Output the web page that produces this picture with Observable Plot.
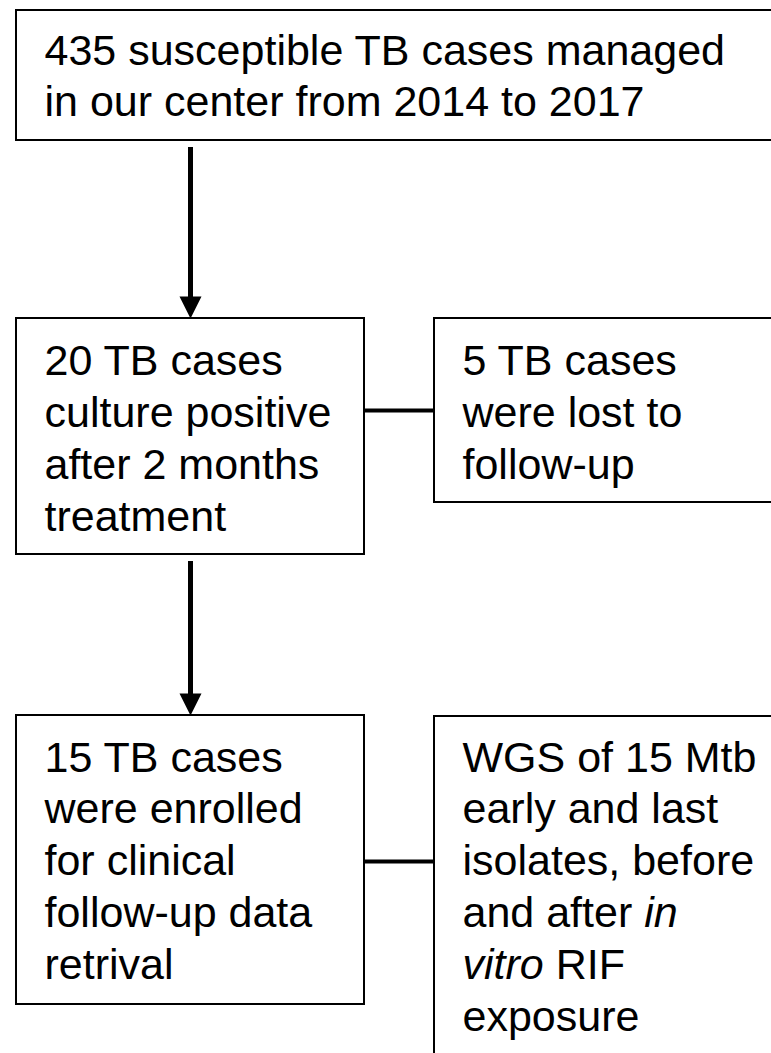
<!DOCTYPE html>
<html>
<head>
<meta charset="utf-8">
<script src="https://cdn.jsdelivr.net/npm/d3@7"></script>
<script src="https://cdn.jsdelivr.net/npm/@observablehq/plot@0.6"></script>
<style>
  html, body { margin: 0; padding: 0; background: #fff; }
  #chart svg { display: block; }
</style>
</head>
<body>
<div id="chart"></div>
<script>
// ---- Data: flowchart nodes and their text lines ----
const nodeIds = ["all", "positive", "lost", "enrolled", "wgs"];
const nodeLines = {
  all: ["435 susceptible TB cases managed", "in our center from 2014 to 2017"],
  positive: ["20 TB cases", "culture positive", "after 2 months", "treatment"],
  lost: ["5 TB cases", "were lost to", "follow-up"],
  enrolled: ["15 TB cases", "were enrolled", "for clinical", "follow-up data", "retrival"],
  wgs: ["WGS of 15 Mtb", "early and last", "isolates, before", "and after _in_", "_vitro_ RIF", "exposure"]
};
const arrowLinks = [["all", "positive"], ["positive", "enrolled"]];
const sideLinks = [["positive", "lost"], ["enrolled", "wgs"]];

// ---- Layout (pixel coordinates in a 771 x 1053 frame) ----
const W = 771, H = 1053;
const boxLayout = {
  all:      {x1: 16,  x2: 790, y1: 10,  y2: 140},
  positive: {x1: 16,  x2: 364, y1: 318, y2: 554},
  lost:     {x1: 434, x2: 790, y1: 318, y2: 502},
  enrolled: {x1: 16,  x2: 364, y1: 715, y2: 1004},
  wgs:      {x1: 434, x2: 790, y1: 716, y2: 1080}
};
const firstBaseline = {all: 64, positive: 374, lost: 374, enrolled: 771, wgs: 771};
const lineStep = {all: 51, positive: 52, lost: 52, enrolled: 51.8, wgs: 51.8};
const connectorY = {positive: 410, enrolled: 861};
const textInset = 28;
const arrowX = 190;

const boxes = nodeIds.map(id => ({id, ...boxLayout[id]}));
const lines = nodeIds.flatMap(id => nodeLines[id].map((raw, i) => {
  const segs = raw.split("_").map((t, k) => ({t, italic: k % 2 === 1})).filter(s => s.t.length);
  return {
    id, segs, text: segs.map(s => s.t).join(""),
    x: boxLayout[id].x1 + textInset,
    y: firstBaseline[id] + i * lineStep[id]
  };
}));
const shafts = arrowLinks.map(([a, b]) => ({x: arrowX, y1: boxLayout[a].y2 + 7, y2: boxLayout[b].y1 - 18}));
const heads = arrowLinks.map(([a, b]) => ({x: arrowX, y: boxLayout[b].y1}));
const connectors = sideLinks.map(([a, b]) => ({x1: boxLayout[a].x2, x2: boxLayout[b].x1, y: connectorY[a]}));

// downward-pointing filled arrowhead with its tip at the anchor point
const headSymbol = {
  draw(ctx) {
    ctx.moveTo(0, 0);
    ctx.lineTo(-11, -22);
    ctx.lineTo(11, -22);
    ctx.closePath();
  }
};

const chart = Plot.plot({
  width: W,
  height: H,
  margin: 0,
  x: {domain: [0, W], range: [0, W], axis: null},
  y: {domain: [0, H], range: [0, H], axis: null},
  style: {background: "#fff", fontFamily: "'Liberation Sans', Arial, sans-serif"},
  marks: [
    Plot.rect(boxes, {x1: "x1", x2: "x2", y1: "y1", y2: "y2", fill: "white", stroke: "#000", strokeWidth: 2}),
    Plot.ruleX(shafts, {x: "x", y1: "y1", y2: "y2", stroke: "#000", strokeWidth: 5}),
    Plot.dot(heads, {x: "x", y: "y", r: 11, symbol: headSymbol, fill: "#000", stroke: "none"}),
    Plot.ruleY(connectors, {y: "y", x1: "x1", x2: "x2", stroke: "#000", strokeWidth: 4}),
    Plot.text(lines, {
      x: "x", y: "y", text: "text",
      textAnchor: "start", lineAnchor: "bottom",
      fontSize: 43, fill: "#000",
      fontFamily: "'Liberation Sans', Arial, sans-serif"
    })
  ]
});

// rich text: rebuild lines that have italic segments
d3.select(chart).selectAll("g[aria-label=text] text").each(function(d, i) {
  const L = lines[i];
  if (!L || !L.segs.some(s => s.italic)) return;
  const t = d3.select(this);
  t.text(null);
  L.segs.forEach(s => {
    t.append("tspan").attr("font-style", s.italic ? "italic" : null).text(s.t);
  });
});

document.getElementById("chart").appendChild(chart);
</script>
</body>
</html>
